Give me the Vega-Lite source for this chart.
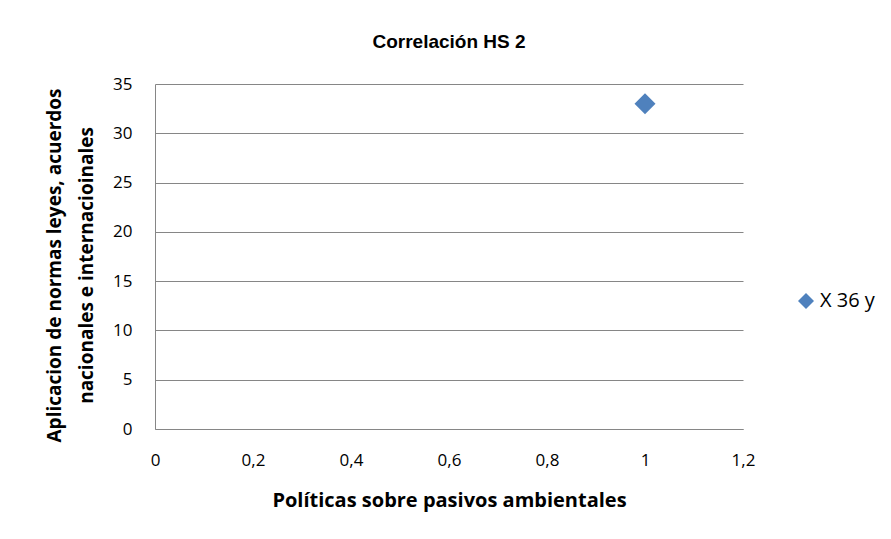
{
  "$schema": "https://vega.github.io/schema/vega-lite/v6.json",
  "width": 588,
  "height": 345,
  "autosize": {"type": "none"},
  "padding": {"left": 155, "top": 84, "right": 148, "bottom": 110},
  "background": "white",
  "title": {
    "text": "Correlación HS 2",
    "font": "Liberation Sans",
    "fontWeight": "bold",
    "fontSize": 19,
    "color": "black",
    "anchor": "middle",
    "offset": 23
  },
  "data": {"values": [{"x": 1, "y": 33, "serie": "X 36 y"}]},
  "mark": {"type": "point", "shape": "diamond", "filled": true, "size": 440, "opacity": 1},
  "encoding": {
    "x": {
      "field": "x",
      "type": "quantitative",
      "scale": {"domain": [0, 1.2], "nice": false, "zero": true},
      "axis": {
        "values": [0, 0.2, 0.4, 0.6, 0.8, 1, 1.2],
        "labelExpr": "replace(format(datum.value, '.1~f'), '.', ',')",
        "labelFlush": false,
        "grid": false,
        "ticks": false,
        "domain": true,
        "domainColor": "#868686",
        "labelPadding": 23,
        "title": "Políticas sobre pasivos ambientales",
        "titleFontSize": 20,
        "titlePadding": 22
      }
    },
    "y": {
      "field": "y",
      "type": "quantitative",
      "scale": {"domain": [0, 35], "nice": false},
      "axis": {
        "values": [0, 5, 10, 15, 20, 25, 30, 35],
        "grid": true,
        "gridColor": "#868686",
        "ticks": false,
        "domain": true,
        "domainColor": "#868686",
        "labelPadding": 23,
        "title": ["Aplicacion de normas leyes, acuerdos", "nacionales e internacioinales"],
        "titleFontSize": 19,
        "titlePadding": 16,
        "titleY": 181,
        "titleLineHeight": 32
      }
    },
    "color": {
      "field": "serie",
      "type": "nominal",
      "scale": {"range": ["#4f81bd"]},
      "legend": {
        "title": null,
        "orient": "none",
        "legendX": 641,
        "legendY": 207,
        "symbolType": "diamond",
        "symbolSize": 256,
        "labelFontSize": 20,
        "labelFont": "Open Sans",
        "labelColor": "black",
        "labelOffset": 4
      }
    }
  },
  "config": {
    "view": {"stroke": null},
    "axis": {
      "labelFont": "Open Sans",
      "labelFontSize": 17,
      "labelColor": "black",
      "titleFont": "Open Sans",
      "titleFontWeight": "bold",
      "titleColor": "black"
    }
  }
}
